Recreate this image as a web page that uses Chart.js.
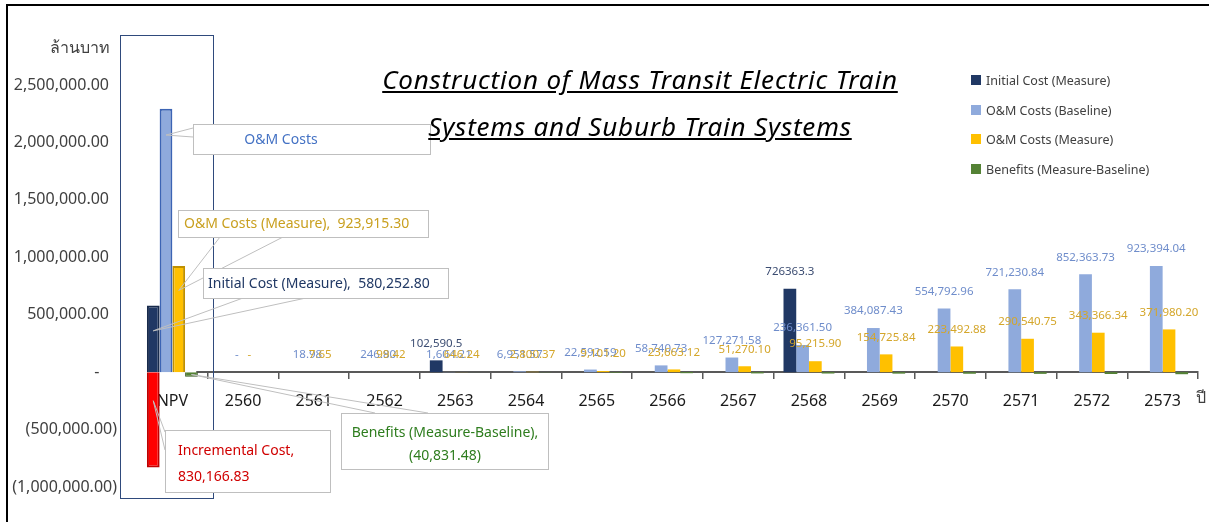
<!DOCTYPE html>
<html>
<head>
<meta charset="utf-8">
<script src="https://cdn.jsdelivr.net/npm/chart.js@4.4.1/dist/chart.umd.min.js"></script>
<style>
  body { margin: 0; background: #fff; }
  #wrap { position: relative; width: 1209px; height: 522px; overflow: hidden; font-family: "Noto Sans", sans-serif; }
  #frame { position: absolute; left: 6px; top: 4px; right: -4px; bottom: -4px; border-top: 2px solid #000; border-left: 2px solid #000; pointer-events: none; }
  .title { position: absolute; left: 0; width: 1280px; line-height: 32px; text-align: center; font-style: italic; text-decoration: underline; font-size: 26px; letter-spacing: 0.8px; color: #000; }
  #legend { position: absolute; left: 971px; top: 72px; font-size: 12.5px; color: #404040; }
  #legend div { height: 29.6px; display: flex; align-items: flex-start; }
  #legend span.box { display: inline-block; width: 10px; height: 10px; margin: 3px 5px 0 0; }
  .axtitle { position: absolute; font-size: 16px; color: #404040; line-height: 20px; }
</style>
</head>
<body>
<div id="wrap">
  <canvas id="grafik" width="1209" height="522"></canvas>
  <div id="frame"></div>
  <div class="title" style="top:63px">Construction of Mass Transit Electric Train</div>
  <div class="title" style="top:110px">Systems and Suburb Train Systems</div>
  <div id="legend"></div>
  <div class="axtitle" style="right:1099px; top:37px">ล้านบาท</div>
  <div class="axtitle" style="left:1196px; top:387px">ปี</div>
</div>
<script>
// data (ล้านบาท)
const categories = ["NPV", "2560", "2561", "2562", "2563", "2564", "2565", "2566", "2567", "2568", "2569", "2570", "2571", "2572", "2573"];
const incrementalCost = [-830166.83, null, null, null, null, null, null, null, null, null, null, null, null, null, null];
const initialCost = [580252.80, 0, 0, 0, 102590.5, 0, 0, 0, 0, 726363.3, 0, 0, 0, 0, 0];
const initialCostLabels = ["", "", "", "", "102,590.5", "", "", "", "", "726363.3", "", "", "", "", ""];
const omBaseline = [2293504, 0, 18.98, 246.80, 1604.21, 6951.57, 22592.59, 58740.73, 127271.58, 236361.50, 384087.43, 554792.96, 721230.84, 852363.73, 923394.04];
const omMeasure = [923915.30, 0, 7.65, 99.42, 646.24, 2800.37, 9101.20, 23663.12, 51270.10, 95215.90, 154725.84, 223492.88, 290540.75, 343366.34, 371980.20];
const benefits = [-40831.48, 0, -5, -60, -400, -1700, -5000, -9000, -11000, -12000, -13000, -14000, -15000, -16000, -18000];
const yTicks = { min: -1000000, max: 2500000, step: 500000 };

Chart.defaults.font.family = '"Noto Sans", sans-serif';

function fmt(v) {
  return v.toLocaleString("en-US", { minimumFractionDigits: 2, maximumFractionDigits: 2 });
}

// only the NPV bars get an outline
function npvBorder(w) {
  return (c) => (c.dataIndex === 0 ? w : 0);
}

// ตัวเลขบนแท่งกราฟ (ปี 2560 - 2573)
const valueLabels = {
  id: "valueLabels",
  afterDatasetsDraw(chart) {
    const ctx = chart.ctx;
    ctx.save();
    ctx.font = '11.5px "Noto Sans"';
    ctx.textAlign = "center";
    ctx.textBaseline = "middle";
    const sets = [
      [1, (i) => initialCostLabels[i], "#3C4D72"],
      [2, (i) => (omBaseline[i] === 0 ? "-" : fmt(omBaseline[i])), "#6F8DCB"],
      [3, (i) => (omMeasure[i] === 0 ? "-" : fmt(omMeasure[i])), "#D4A62A"],
    ];
    sets.forEach(([ds, text, color]) => {
      const meta = chart.getDatasetMeta(ds);
      ctx.fillStyle = color;
      for (let i = 1; i < categories.length; i++) {
        const t = text(i);
        if (!t) continue;
        const bar = meta.data[i];
        ctx.fillText(t, bar.x, bar.y - 17);
      }
    });
    ctx.restore();
  },
};

// กรอบ NPV
const npvFrame = {
  id: "npvFrame",
  beforeDatasetsDraw(chart) {
    const { ctx, scales } = chart;
    const x = scales.x;
    const y0 = scales.y.getPixelForValue(0);
    const step = x.getPixelForValue(1) - x.getPixelForValue(0);
    ctx.save();
    ctx.fillStyle = "#fff";
    ctx.fillRect(x.left - 3, y0 - 3, step * 0.88, 12);
    ctx.strokeStyle = "#2F4A7C";
    ctx.lineWidth = 1;
    ctx.strokeRect(120.5, 35.5, 93, 463);
    ctx.restore();
  },
};

// callouts for the NPV bars
const callouts = [
  { ds: 2, f: 0.1, box: [193, 124, 237, 30], tips: [[193, 128], [193, 137]], color: "#4472C4", align: "center",
    lines: [["O&M Costs", 281, 140]] },
  { ds: 3, f: 0.23, box: [178, 210, 250, 27], tips: [[220, 237], [283, 237]], color: "#C9A020", align: "left",
    lines: [["O&M Costs (Measure),  " + fmt(omMeasure[0]), 184, 224]] },
  { ds: 1, f: 0.38, box: [203, 268, 245, 30], tips: [[243, 298], [306, 298]], color: "#203864", align: "left",
    lines: [["Initial Cost (Measure),  " + fmt(initialCost[0]), 208, 284]] },
  { ds: 0, f: 0.7, box: [165, 430, 165, 62], tips: [[165, 432], [165, 450]], color: "#D00000", align: "left",
    lines: [["Incremental Cost,", 178, 451], [fmt(-incrementalCost[0]), 178, 477]] },
  { ds: 4, f: 0.5, box: [341, 413, 207, 56], tips: [[375, 413], [428, 413]], color: "#2E7D1E", align: "center",
    lines: [["Benefits (Measure-Baseline),", 445, 433], ["(" + fmt(-benefits[0]) + ")", 445, 456]] },
];

const calloutPlugin = {
  id: "callouts",
  afterDatasetsDraw(chart) {
    const ctx = chart.ctx;
    ctx.save();
    ctx.font = '14px "Noto Sans"';
    ctx.textBaseline = "middle";
    callouts.forEach((c) => {
      const bar = chart.getDatasetMeta(c.ds).data[0];
      const ax = bar.x;
      const ay = bar.y + c.f * (bar.base - bar.y);
      ctx.strokeStyle = "#BFBFBF";
      ctx.lineWidth = 1;
      ctx.beginPath();
      c.tips.forEach((p) => {
        ctx.moveTo(ax, ay);
        ctx.lineTo(p[0], p[1]);
      });
      ctx.stroke();
      const [bx, by, bw, bh] = c.box;
      ctx.fillStyle = "#fff";
      ctx.fillRect(bx, by, bw, bh);
      ctx.strokeRect(bx + 0.5, by + 0.5, bw, bh);
      ctx.fillStyle = c.color;
      ctx.textAlign = c.align;
      c.lines.forEach(([t, tx, ty]) => ctx.fillText(t, tx, ty));
    });
    ctx.restore();
  },
};

const ctx = document.getElementById("grafik").getContext("2d");
const chart = new Chart(ctx, {
  type: "bar",
  data: {
    labels: categories,
    datasets: [
      {
        label: "Incremental Cost",
        data: incrementalCost,
        stack: "a",
        backgroundColor: "#FF0000",
        borderColor: "#C00000",
        borderWidth: 2,
      },
      {
        label: "Initial Cost (Measure)",
        data: initialCost,
        stack: "a",
        backgroundColor: "#203864",
        borderColor: "#172A4B",
        borderWidth: npvBorder(2),
      },
      {
        label: "O&M Costs (Baseline)",
        data: omBaseline,
        stack: "b",
        backgroundColor: "#8FAADC",
        borderColor: "#3C64B4",
        borderWidth: npvBorder(2),
      },
      {
        label: "O&M Costs (Measure)",
        data: omMeasure,
        stack: "c",
        backgroundColor: "#FFC000",
        borderColor: "#BF9000",
        borderWidth: npvBorder(2),
      },
      {
        label: "Benefits (Measure-Baseline)",
        data: benefits,
        stack: "d",
        backgroundColor: "#548235",
        borderColor: "#385723",
        borderWidth: npvBorder(1),
      },
    ],
  },
  options: {
    responsive: false,
    animation: false,
    devicePixelRatio: 1,
    categoryPercentage: 0.72,
    barPercentage: 1,
    layout: { padding: { left: 12, top: 85, right: 11, bottom: 35 } },
    plugins: {
      legend: { display: false },
      tooltip: { enabled: false },
    },
    scales: {
      x: {
        position: { y: 0 },
        afterFit: (scale) => {
          scale.height = 0;
        },
        grid: { drawOnChartArea: false, drawTicks: true, tickLength: 6, color: "#595959", lineWidth: 1.5, offset: true },
        border: { display: true, color: "#595959", width: 2 },
        ticks: { color: "#1A1A1A", font: { size: 16 }, padding: 14, maxRotation: 0, autoSkip: false },
      },
      y: {
        stacked: true,
        min: yTicks.min,
        max: yTicks.max,
        afterFit: (scale) => {
          scale.width = 125;
        },
        grid: { display: false, drawTicks: false },
        border: { display: false },
        ticks: {
          stepSize: yTicks.step,
          color: "#404040",
          font: { size: 16 },
          padding: 20,
          callback: (v) => (v === 0 ? "-\u2003\u200a" : v < 0 ? "(" + fmt(-v) + ")" : fmt(v) + "\u2002"),
        },
      },
    },
  },
  plugins: [npvFrame, valueLabels, calloutPlugin],
});

// legend (ไม่รวม Incremental Cost)
const legend = document.getElementById("legend");
chart.data.datasets.slice(1).forEach((d) => {
  const row = document.createElement("div");
  row.innerHTML = '<span class="box" style="background:' + d.backgroundColor + '"></span>' + d.label;
  legend.appendChild(row);
});
</script>
</body>
</html>
